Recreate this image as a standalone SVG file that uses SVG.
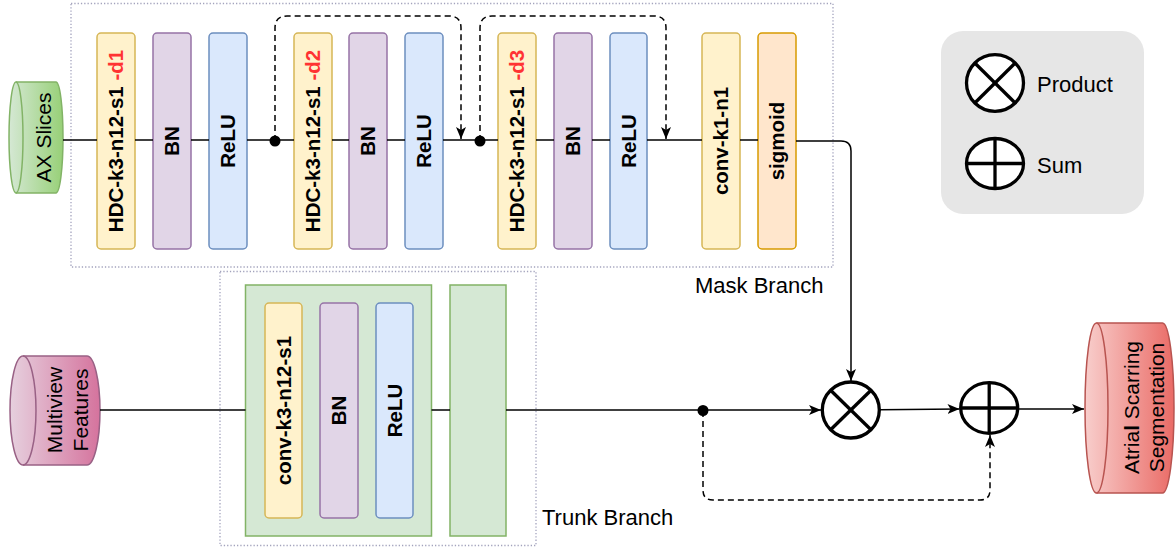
<svg xmlns="http://www.w3.org/2000/svg" width="1175" height="548" viewBox="0 0 1175 548">
<style>
.yel{fill:#fff2cc;stroke:#d6b656;stroke-width:1.5}
.pur{fill:#e1d5e7;stroke:#9673a6;stroke-width:1.5}
.blu{fill:#dae8fc;stroke:#6c8ebf;stroke-width:1.5}
.org{fill:#ffe6cc;stroke:#d79b00;stroke-width:1.5}
.grn{fill:#d5e8d4;stroke:#82b366;stroke-width:1.5}
.cont{fill:none;stroke:#a3a3bd;stroke-width:1.3;stroke-dasharray:1.3 2}
.lbl{font-family:"Liberation Sans",Arial,sans-serif;font-weight:bold;font-size:20.5px;fill:#000}
.txt{font-family:"Liberation Sans",Arial,sans-serif;font-size:21px;fill:#000}
.big{font-family:"Liberation Sans",Arial,sans-serif;font-size:22px;fill:#000}
.red{fill:#ff3333}
.ln{fill:none;stroke:#000;stroke-width:1.5}
.dash{fill:none;stroke:#000;stroke-width:1.5;stroke-dasharray:6 4}
.op{fill:#fff;stroke:#000;stroke-width:3.3}
.opl{stroke:#000;stroke-width:3.3}
</style>
<defs>
<marker id="arr" markerUnits="userSpaceOnUse" markerWidth="14" markerHeight="12" refX="12" refY="5" orient="auto" viewBox="0 0 14 12">
<path d="M0,0 L12,5 L0,10 L3,5 Z" fill="#000"/>
</marker>
<linearGradient id="gG" x1="0" y1="0" x2="1" y2="0"><stop offset="0" stop-color="#d5e8d4"/><stop offset="1" stop-color="#97d077"/></linearGradient>
<linearGradient id="gP" x1="0" y1="0" x2="1" y2="0"><stop offset="0" stop-color="#e6d0de"/><stop offset="1" stop-color="#d5739d"/></linearGradient>
<linearGradient id="gR" x1="0" y1="0" x2="1" y2="0"><stop offset="0" stop-color="#f8cecc"/><stop offset="1" stop-color="#ea6b66"/></linearGradient>
</defs>

<!-- containers -->
<g id="mask-branch">
<rect class="cont" x="71" y="3.5" width="762" height="263.5"/>
<text class="big" x="695" y="293">Mask Branch</text>
</g>
<g id="trunk-branch">
<rect class="cont" x="220" y="271.5" width="316" height="274"/>
<text class="big" x="542" y="525">Trunk Branch</text>
</g>

<!-- legend -->
<g id="legend">
<rect x="941" y="31" width="203" height="183" rx="22" fill="#e6e6e6"/>
<ellipse class="op" cx="995" cy="83" rx="28.5" ry="28.3"/>
<line class="opl" x1="974.8" y1="63" x2="1015.2" y2="103"/>
<line class="opl" x1="1015.2" y1="63" x2="974.8" y2="103"/>
<text class="big" x="1037" y="92">Product</text>
<ellipse class="op" cx="995" cy="163.5" rx="28.5" ry="25"/>
<line class="opl" x1="966.5" y1="163.5" x2="1023.5" y2="163.5"/>
<line class="opl" x1="995" y1="138.5" x2="995" y2="188.5"/>
<text class="big" x="1037" y="173">Sum</text>
</g>

<!-- inputs / outputs -->
<g id="ax-slices">
<path d="M16,82 L56,82 A7,55.5 0 0 1 56,193 L16,193 A7,55.5 0 0 1 16,82 Z" fill="url(#gG)" stroke="#82b366" stroke-width="1.5"/>
<path d="M16,82 A7,55.5 0 0 1 16,193" fill="none" stroke="#82b366" stroke-width="1.5"/>
<text class="txt" transform="translate(51,137.5) rotate(-90)" text-anchor="middle" x="0" y="0">AX Slices</text>
</g>
<g id="multiview-features">
<path d="M23,356 L87,356 A13,54.5 0 0 1 87,465 L23,465 A13,54.5 0 0 1 23,356 Z" fill="url(#gP)" stroke="#996185" stroke-width="1.5"/>
<path d="M23,356 A13,54.5 0 0 1 23,465" fill="none" stroke="#996185" stroke-width="1.5"/>
<text class="txt" transform="translate(0,410) rotate(-90)" text-anchor="middle"><tspan x="0" y="62">Multiview</tspan><tspan x="0" y="88">Features</tspan></text>
</g>
<g id="atrial-scarring-segmentation">
<path d="M1096.5,323 L1162.5,323 A11.5,85 0 0 1 1162.5,493 L1096.5,493 A11.5,85 0 0 1 1096.5,323 Z" fill="url(#gR)" stroke="#b85450" stroke-width="1.5"/>
<path d="M1096.5,323 A11.5,85 0 0 1 1096.5,493" fill="none" stroke="#b85450" stroke-width="1.5"/>
<text class="txt" transform="translate(0,407.5) rotate(-90)" text-anchor="middle"><tspan x="0" y="1138.5">Atria<tspan font-weight="bold">l</tspan> Scarring</tspan><tspan x="0" y="1164">Segmentation</tspan></text>
</g>

<!-- mask branch layers -->
<g id="hdc-d1"><rect class="yel" x="97" y="33" width="38" height="216" rx="4"/><text class="lbl" transform="translate(123.3,141) rotate(-90)" text-anchor="middle">HDC-k3-n12-s1 <tspan class="red">-d1</tspan></text></g>
<g id="bn-1"><rect class="pur" x="153" y="33" width="38" height="216" rx="4"/><text class="lbl" transform="translate(179.3,141) rotate(-90)" text-anchor="middle">BN</text></g>
<g id="relu-1"><rect class="blu" x="209" y="33" width="38" height="216" rx="4"/><text class="lbl" transform="translate(235.3,141) rotate(-90)" text-anchor="middle">ReLU</text></g>
<g id="hdc-d2"><rect class="yel" x="294" y="33" width="38" height="216" rx="4"/><text class="lbl" transform="translate(320.3,141) rotate(-90)" text-anchor="middle">HDC-k3-n12-s1 <tspan class="red">-d2</tspan></text></g>
<g id="bn-2"><rect class="pur" x="349" y="33" width="38" height="216" rx="4"/><text class="lbl" transform="translate(375.3,141) rotate(-90)" text-anchor="middle">BN</text></g>
<g id="relu-2"><rect class="blu" x="405" y="33" width="38" height="216" rx="4"/><text class="lbl" transform="translate(431.3,141) rotate(-90)" text-anchor="middle">ReLU</text></g>
<g id="hdc-d3"><rect class="yel" x="498" y="33" width="38" height="216" rx="4"/><text class="lbl" transform="translate(524.3,141) rotate(-90)" text-anchor="middle">HDC-k3-n12-s1 <tspan class="red">-d3</tspan></text></g>
<g id="bn-3"><rect class="pur" x="554" y="33" width="38" height="216" rx="4"/><text class="lbl" transform="translate(580.3,141) rotate(-90)" text-anchor="middle">BN</text></g>
<g id="relu-3"><rect class="blu" x="610" y="33" width="37" height="216" rx="4"/><text class="lbl" transform="translate(635.8,141) rotate(-90)" text-anchor="middle">ReLU</text></g>
<g id="conv-k1-n1"><rect class="yel" x="702" y="33" width="38" height="216" rx="4"/><text class="lbl" transform="translate(728.3,141) rotate(-90)" text-anchor="middle">conv-k1-n1</text></g>
<g id="sigmoid"><rect class="org" x="758" y="33" width="38" height="216" rx="4"/><text class="lbl" transform="translate(784.3,141) rotate(-90)" text-anchor="middle">sigmoid</text></g>

<!-- trunk branch layers -->
<g id="trunk-block-1"><rect class="grn" x="245.5" y="285" width="186" height="251"/></g>
<g id="conv-k3-n12-s1"><rect class="yel" x="265" y="303" width="37" height="215" rx="4"/><text class="lbl" transform="translate(290.8,410.5) rotate(-90)" text-anchor="middle">conv-k3-n12-s1</text></g>
<g id="bn-trunk"><rect class="pur" x="320" y="303" width="38" height="215" rx="4"/><text class="lbl" transform="translate(346.3,410.5) rotate(-90)" text-anchor="middle">BN</text></g>
<g id="relu-trunk"><rect class="blu" x="376" y="303" width="37" height="215" rx="4"/><text class="lbl" transform="translate(401.8,410.5) rotate(-90)" text-anchor="middle">ReLU</text></g>
<g id="trunk-block-2"><rect class="grn" x="450" y="285" width="56" height="251"/></g>

<!-- operators -->
<g id="product">
<ellipse class="op" cx="850.8" cy="410" rx="28.5" ry="28"/>
<line class="opl" x1="830.6" y1="390.2" x2="871" y2="429.8"/>
<line class="opl" x1="871" y1="390.2" x2="830.6" y2="429.8"/>
</g>
<g id="sum">
<ellipse class="op" cx="989.2" cy="408" rx="28.5" ry="25.3"/>
<line class="opl" x1="960.7" y1="408" x2="1017.7" y2="408"/>
<line class="opl" x1="989.2" y1="382.7" x2="989.2" y2="433.3"/>
</g>

<!-- connectors -->
<g id="connectors">
<line class="ln" x1="63" y1="140" x2="97" y2="140"/>
<line class="ln" x1="135" y1="140" x2="153" y2="140"/>
<line class="ln" x1="191" y1="140" x2="209" y2="140"/>
<line class="ln" x1="247" y1="140" x2="294" y2="140"/>
<line class="ln" x1="332" y1="140" x2="349" y2="140"/>
<line class="ln" x1="387" y1="140" x2="405" y2="140"/>
<line class="ln" x1="443" y1="140" x2="498" y2="140"/>
<line class="ln" x1="536" y1="140" x2="554" y2="140"/>
<line class="ln" x1="592" y1="140" x2="610" y2="140"/>
<line class="ln" x1="647" y1="140" x2="702" y2="140"/>
<line class="ln" x1="740" y1="140" x2="758" y2="140"/>
<path class="ln" d="M796,141 L841,141 Q851,141 851,151 L851,381" marker-end="url(#arr)"/>
<circle cx="275" cy="141" r="5.5" fill="#000"/>
<circle cx="480" cy="141" r="5.5" fill="#000"/>
<path class="dash" d="M275,141 L275,28 Q275,16 287,16 L449,16 Q461,16 461,28 L461,139" marker-end="url(#arr)"/>
<path class="dash" d="M480,141 L480,28 Q480,16 492,16 L654,16 Q666,16 666,28 L666,139" marker-end="url(#arr)"/>
<line class="ln" x1="100" y1="410" x2="245.5" y2="410"/>
<line class="ln" x1="431.5" y1="410" x2="450" y2="410"/>
<path class="ln" d="M506,410 L821,410" marker-end="url(#arr)"/>
<circle cx="703" cy="410.5" r="5.5" fill="#000"/>
<path class="ln" d="M879.5,409.8 L959.5,409" marker-end="url(#arr)"/>
<path class="ln" d="M1018,409 L1084,409" marker-end="url(#arr)"/>
<path class="dash" d="M703,411 L703,490 Q703,500 713,500 L980,500 Q990,500 990,490 L990,435" marker-end="url(#arr)"/>
</g>
</svg>
